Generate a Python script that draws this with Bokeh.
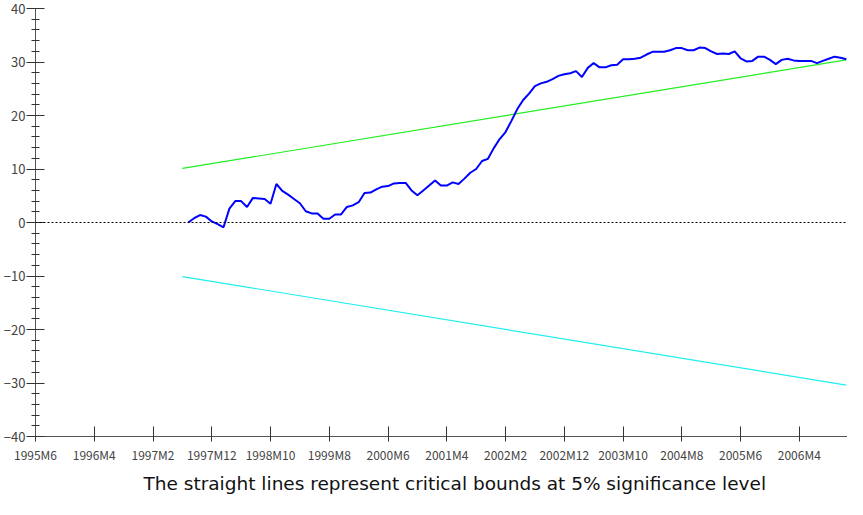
from bokeh.plotting import figure
from bokeh.models import FixedTicker, Range1d, Title, Span
from bokeh.embed import file_html
from bokeh.resources import INLINE

# --- data ---
tick_labels = ["1995M6", "1996M4", "1997M2", "1997M12", "1998M10", "1999M8", "2000M6",
               "2001M4", "2002M2", "2002M12", "2003M10", "2004M8", "2005M6", "2006M4"]
first_month = "1995M6"
cusum_start = "1997M8"
cusum = [0.0, 0.8, 1.4, 1.1, 0.2, -0.3, -0.9, 2.6, 4.0, 4.0,
         2.9, 4.6, 4.5, 4.4, 3.5, 7.2, 5.9, 5.2, 4.4, 3.6,
         2.1, 1.7, 1.7, 0.7, 0.7, 1.5, 1.5, 2.9, 3.2, 3.8,
         5.5, 5.6, 6.2, 6.7, 6.8, 7.3, 7.4, 7.4, 6.0, 5.1,
         6.0, 6.9, 7.85, 6.9, 6.9, 7.5, 7.2, 8.2, 9.3, 10.0,
         11.5, 11.9, 13.9, 15.6, 16.9, 19.0, 21.2, 22.9, 24.1, 25.5,
         26.0, 26.3, 26.8, 27.4, 27.7, 27.9, 28.3, 27.2, 28.9, 29.8,
         29.0, 29.0, 29.4, 29.5, 30.5, 30.5, 30.6, 30.8, 31.4, 31.9,
         31.9, 31.9, 32.2, 32.6, 32.6, 32.2, 32.2, 32.7, 32.6, 32.0,
         31.5, 31.6, 31.5, 32.0, 30.7, 30.1, 30.2, 31.0, 31.0, 30.4,
         29.6, 30.4, 30.6, 30.3, 30.2, 30.2, 30.2, 29.8, 30.2, 30.6,
         31.0, 30.8, 30.5]
bound_months = ["1997M7", "2006M12"]
upper_bound = [10.1, 30.4]
lower_bound = [-10.1, -30.4]
caption = "The straight lines represent critical bounds at 5% significance level"


def month_index(label):
    y, m = label.split("M")
    y0, m0 = first_month.split("M")
    return (int(y) - int(y0)) * 12 + (int(m) - int(m0))


s = month_index(cusum_start)
cx = [s + i for i in range(len(cusum))]
bx = [month_index(b) for b in bound_months]
tick_pos = [month_index(t) for t in tick_labels]

p = figure(width=847, height=499, output_backend="svg", toolbar_location=None,
           x_range=Range1d(0, 138.2), y_range=Range1d(-40, 40),
           min_border_left=34, min_border_right=0, min_border_top=8, min_border_bottom=0)
p.outline_line_color = None
p.xgrid.visible = False
p.ygrid.visible = False
p.background_fill_color = "white"
p.border_fill_color = "white"

font = "Noto Sans CJK JP"

# x axis
p.xaxis.ticker = FixedTicker(ticks=tick_pos)
p.xaxis.major_label_overrides = {t: l for t, l in zip(tick_pos, tick_labels)}
p.xaxis.major_tick_in = 10
p.xaxis.major_tick_out = 5
p.xaxis.minor_tick_line_color = None
p.xaxis.major_label_standoff = 4
p.xaxis.axis_line_color = "#555555"
p.xaxis.major_tick_line_color = "#333333"
p.xaxis.major_label_text_font = font
p.xaxis.major_label_text_font_size = "12px"
p.xaxis.major_label_text_color = "#444444"

# y axis
p.yaxis.ticker = FixedTicker(ticks=list(range(-40, 41, 10)), minor_ticks=list(range(-40, 41, 2)))
p.yaxis.major_tick_in = 9
p.yaxis.major_tick_out = 9
p.yaxis.minor_tick_in = 4
p.yaxis.minor_tick_out = 4
p.yaxis.major_label_standoff = 1
p.yaxis.axis_line_color = "#555555"
p.yaxis.major_tick_line_color = "#333333"
p.yaxis.minor_tick_line_color = "#333333"
p.yaxis.major_label_text_font = font
p.yaxis.major_label_text_font_size = "13px"
p.yaxis.major_label_text_color = "#444444"

# zero line
p.add_layout(Span(location=0, dimension="width", line_color="black",
                  line_dash="2 2", line_width=1))

p.line(bx, upper_bound, line_color="#22ee22", line_width=1.2)
p.line(bx, lower_bound, line_color="#22eeee", line_width=1.2)
p.line(cx, cusum, line_color="#0000ff", line_width=2)

p.add_layout(Title(text=caption, align="left", offset=108, text_font="DejaVu Sans",
                   text_font_size="18.5px", text_font_style="normal",
                   text_color="#111111", standoff=11), "below")

open("out.html", "w").write(file_html(p, INLINE))
